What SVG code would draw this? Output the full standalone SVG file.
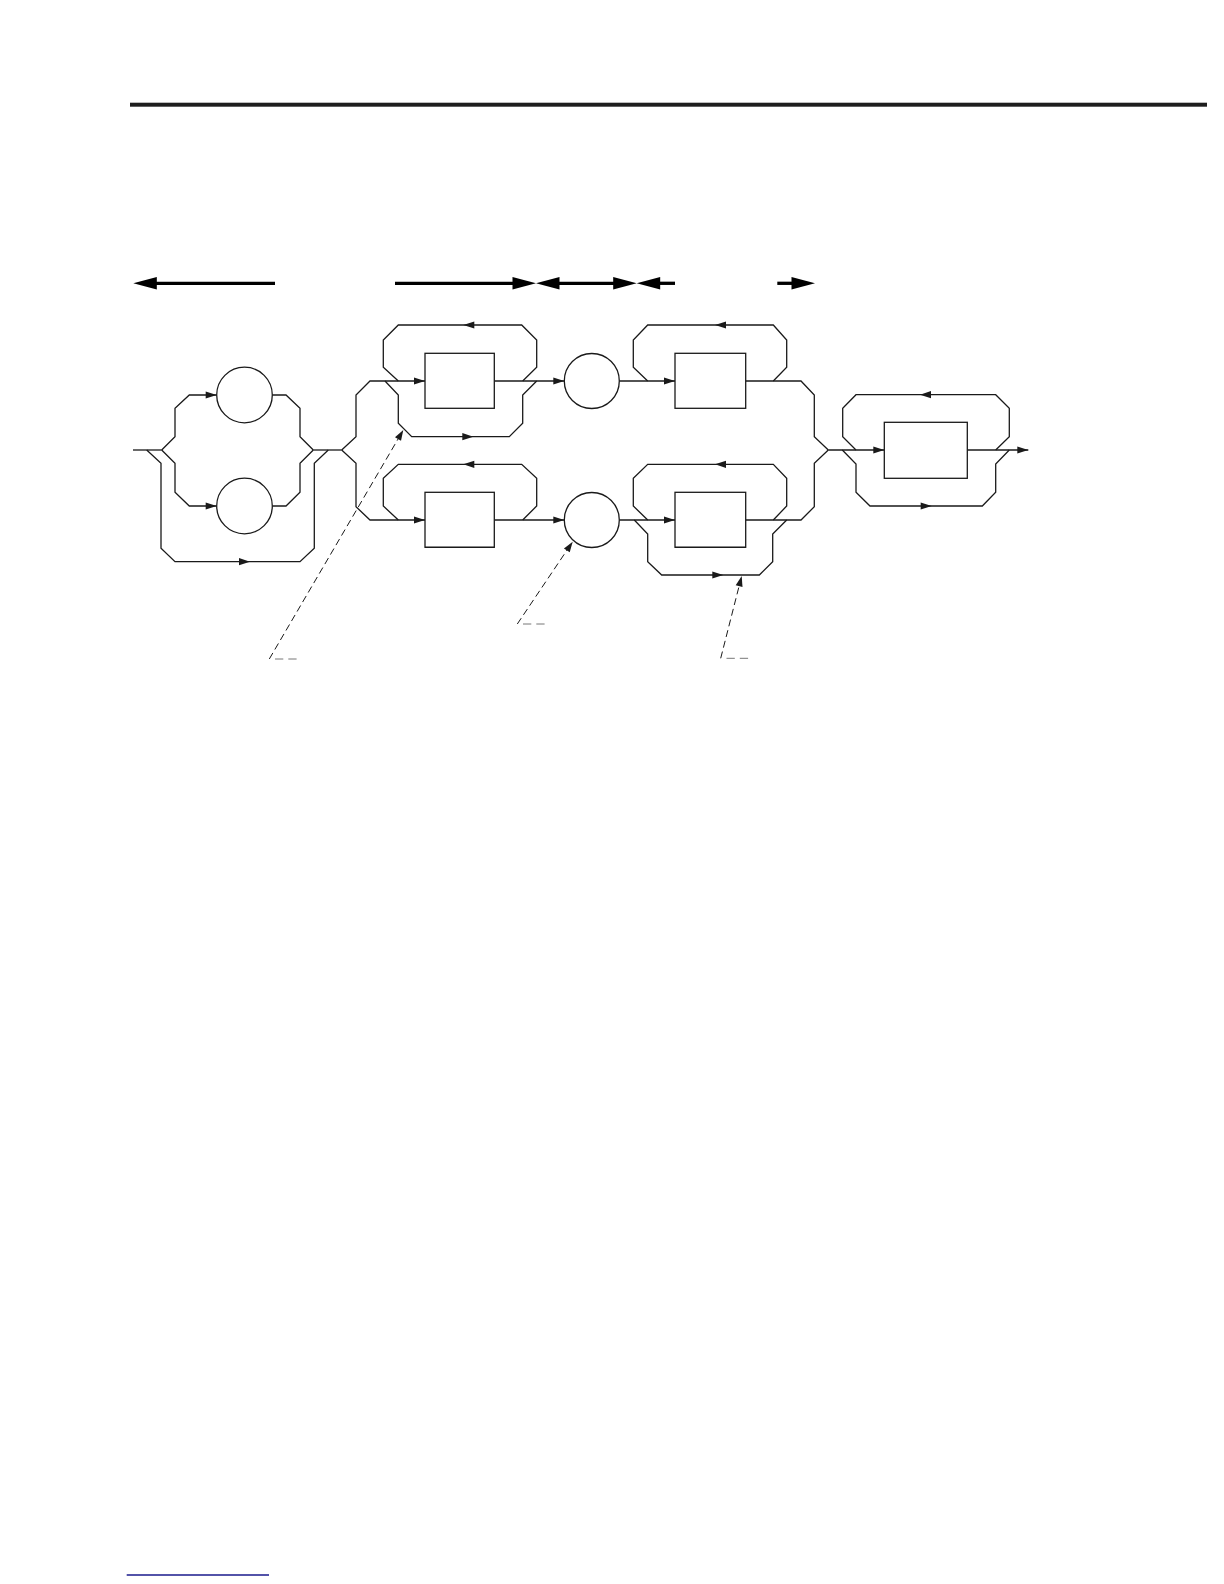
<svg xmlns="http://www.w3.org/2000/svg" width="1224" height="1584" viewBox="0 0 1224 1584">
<style>
.ln{fill:none;stroke:#1a1a1a;stroke-width:1.3;stroke-linejoin:miter}
.nd{fill:#fff;stroke:#1a1a1a;stroke-width:1.3}
.ds{fill:none;stroke:#1a1a1a;stroke-width:1;stroke-dasharray:7,4}
.dg{fill:none;stroke:#777;stroke-width:1;stroke-dasharray:8.3,5}
.ah{fill:#1a1a1a}
.bg{fill:none;stroke:#000;stroke-width:3.3}
.bh{fill:#000}
</style>
<defs>
<path id="ah" d="M0,0 L-11,-3.6 L-11,3.6 Z"/>
<path id="dh" d="M0,0 L-10.5,-3.5 L-10.5,3.5 Z"/>
<path id="bh" d="M0,0 L-23.5,-6.3 L-23.5,6.3 Z"/>
</defs>
<rect width="1224" height="1584" fill="#fff"/>
<rect x="130" y="102.7" width="1077" height="4" fill="#1e1e1e"/>
<line x1="126.7" y1="1575" x2="269" y2="1575" stroke="#1a1a8c" stroke-width="1.4"/>

<g id="range-arrows">
<line class="bg" x1="156" y1="283.3" x2="275" y2="283.3"/>
<use class="bh" href="#bh" transform="translate(133.3,283.3) rotate(180)"/>
<line class="bg" x1="395" y1="283.3" x2="514" y2="283.3"/>
<use class="bh" href="#bh" transform="translate(536,283.3)"/>
<line class="bg" x1="559" y1="283.3" x2="614" y2="283.3"/>
<use class="bh" href="#bh" transform="translate(536,283.3) rotate(180)"/>
<use class="bh" href="#bh" transform="translate(636.7,283.3)"/>
<line class="bg" x1="659" y1="283.3" x2="675" y2="283.3"/>
<use class="bh" href="#bh" transform="translate(636.7,283.3) rotate(180)"/>
<line class="bg" x1="777.3" y1="283.3" x2="792" y2="283.3"/>
<use class="bh" href="#bh" transform="translate(815,283.3)"/>
</g>

<g id="connectors">
<path class="ln" d="M133,450 H161.7"/>
<path class="ln" d="M161.7,450 L175,436.7 V408.3 L189.3,395 H216.7"/>
<path class="ln" d="M161.7,450 L175,463.3 V492.3 L189.3,506 H216.7"/>
<path class="ln" d="M272.3,395 H286 L300,408.3 V436.7 L313.3,450"/>
<path class="ln" d="M272.3,506 H286 L300,492.3 V463.3 L313.3,450"/>
<path class="ln" d="M146.7,450 L161,463.3 V548.3 L175,561.7 H300 L314.3,548.3 V463.3 L328.3,450"/>
<path class="ln" d="M313.3,450 H341.7"/>
<use class="ah" href="#ah" transform="translate(216.7,395)"/>
<use class="ah" href="#ah" transform="translate(216.7,506)"/>
<use class="ah" href="#ah" transform="translate(250,561.7)"/>

<path class="ln" d="M341.7,450 L356,436.7 V395 L370,381 H425"/>
<path class="ln" d="M341.7,450 L356,463.3 V506.7 L370,520 H425"/>
<use class="ah" href="#ah" transform="translate(425,381)"/>
<use class="ah" href="#ah" transform="translate(425,520)"/>
<path class="ln" d="M522.7,381 L536.7,367.3 V340 L521.7,325 H398.3 L383.3,340 V367.3 L398.3,381"/>
<use class="ah" href="#ah" transform="translate(463.3,325) rotate(180)"/>
<path class="ln" d="M385,381 L398.3,395 V423.3 L411.7,436.7 H509.3 L522.7,423.3 V395 L536.7,381"/>
<use class="ah" href="#ah" transform="translate(473.3,436.7)"/>
<path class="ln" d="M522.7,520 L536.7,506 V478.3 L521.7,464.3 H398.3 L383.3,478.3 V506 L398.3,520"/>
<use class="ah" href="#ah" transform="translate(463.3,464.3) rotate(180)"/>
<path class="ln" d="M494.3,381 H564.3"/>
<path class="ln" d="M494.3,520 H564.3"/>
<use class="ah" href="#ah" transform="translate(564.3,381)"/>
<use class="ah" href="#ah" transform="translate(564.3,520)"/>

<path class="ln" d="M619.3,381 H675"/>
<path class="ln" d="M619.3,520 H675"/>
<use class="ah" href="#ah" transform="translate(675,381)"/>
<use class="ah" href="#ah" transform="translate(675,520)"/>
<path class="ln" d="M647.7,381 L633.3,367.3 V340 L647.7,325 H773.3 L786.7,340 V367.3 L773.3,381"/>
<use class="ah" href="#ah" transform="translate(715,325) rotate(180)"/>
<path class="ln" d="M647.7,520 L633.3,506 V478.3 L647.7,464.3 H773.3 L786.7,478.3 V506 L773.3,520"/>
<use class="ah" href="#ah" transform="translate(715,464.3) rotate(180)"/>
<path class="ln" d="M634.3,520 L647.7,534 V561.7 L661.7,575 H759.3 L772.7,561.7 V534 L786.7,520"/>
<use class="ah" href="#ah" transform="translate(723.3,575)"/>
<path class="ln" d="M745.7,381 H801 L814.3,395 V436.7 L828.3,450"/>
<path class="ln" d="M745.7,520 H801 L814.3,506.7 V463.3 L828.3,450"/>

<path class="ln" d="M828.3,450 H884.3"/>
<use class="ah" href="#ah" transform="translate(884.3,450)"/>
<path class="ln" d="M856,450 L842.7,436.7 V408.3 L856,394.7 H995.7 L1009.3,408.3 V436.7 L995.7,450"/>
<use class="ah" href="#ah" transform="translate(920,394.7) rotate(180)"/>
<path class="ln" d="M842.3,450 L856,464 V492.3 L870,506 H982.3 L995.7,492.3 V464 L1009.3,450"/>
<use class="ah" href="#ah" transform="translate(931.7,506)"/>
<path class="ln" d="M967.3,450 H1028.3"/>
<use class="ah" href="#ah" transform="translate(1028.3,450)"/>

<path class="ds" d="M269.3,659 L398.3,438.6"/>
<path class="dg" d="M275,659 H296.7"/>
<use class="ah" href="#dh" transform="translate(403.3,430) rotate(-59.67)"/>
<path class="ds" d="M517.3,624 L567.1,550"/>
<path class="dg" d="M523,624 H545"/>
<use class="ah" href="#dh" transform="translate(572.7,541.7) rotate(-56.05)"/>
<path class="ds" d="M720.7,658.3 L739.2,585.7"/>
<path class="dg" d="M726.5,658.3 H748.3"/>
<use class="ah" href="#dh" transform="translate(741.7,576) rotate(-75.7)"/>
</g>

<g id="circle1"><circle class="nd" cx="244.5" cy="395" r="27.8"/></g>
<g id="circle2"><circle class="nd" cx="244.5" cy="506" r="27.8"/></g>
<g id="box1"><rect class="nd" x="425" y="353.3" width="69.3" height="55"/></g>
<g id="box2"><rect class="nd" x="425" y="492.3" width="69.3" height="55"/><line class="ln" x1="425" y1="547.3" x2="494.3" y2="547.3" stroke-width="2"/></g>
<g id="circle3"><circle class="nd" cx="591.8" cy="381" r="27.5"/></g>
<g id="circle4"><circle class="nd" cx="591.8" cy="520" r="27.5"/></g>
<g id="box3"><rect class="nd" x="675" y="353.3" width="70.7" height="55"/></g>
<g id="box4"><rect class="nd" x="675" y="492.3" width="70.7" height="55"/><line class="ln" x1="675" y1="547.3" x2="745.7" y2="547.3" stroke-width="2"/></g>
<g id="box5"><rect class="nd" x="884.3" y="422.3" width="83" height="56"/></g>
</svg>
